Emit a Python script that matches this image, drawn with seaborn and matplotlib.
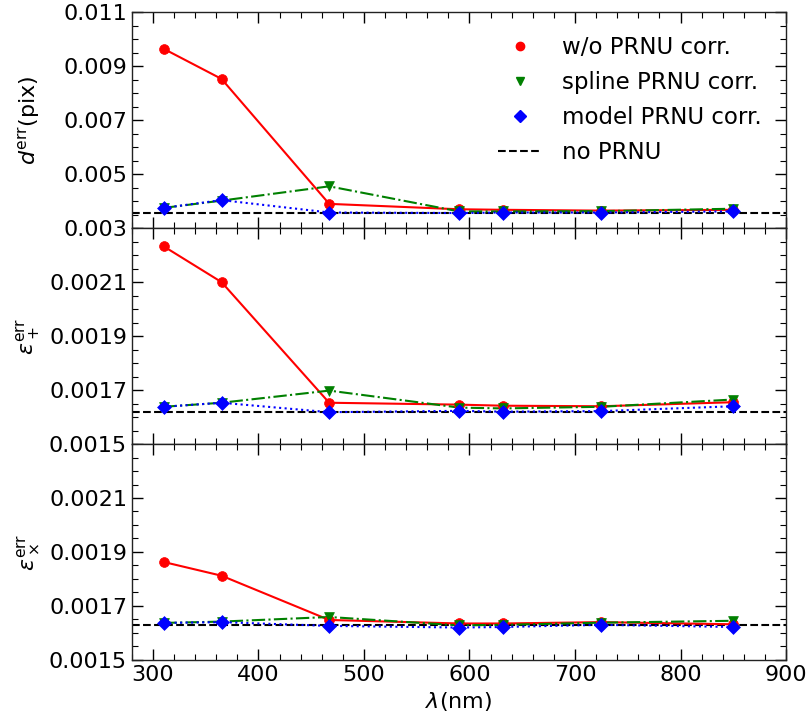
import numpy as np
import pandas as pd
import matplotlib
matplotlib.use("Agg")
import matplotlib.pyplot as plt
from matplotlib.ticker import AutoMinorLocator, MultipleLocator
from matplotlib.lines import Line2D
import seaborn as sns

# ---- data ----
wavelength = [310, 365, 467, 590, 632, 725, 850]

d_wo = [0.00965, 0.00853, 0.00390, 0.00370, 0.00368, 0.00365, 0.00368]
d_spline = [0.00375, 0.00402, 0.00455, 0.00362, 0.00362, 0.00363, 0.00372]
d_model = [0.00375, 0.00404, 0.00358, 0.00356, 0.00358, 0.00358, 0.00362]
d_none = 0.00358

ep_wo = [0.002233, 0.002100, 0.001653, 0.001646, 0.001642, 0.001640, 0.001655]
ep_spline = [0.001638, 0.001653, 0.001698, 0.001635, 0.001632, 0.001638, 0.001665]
ep_model = [0.001638, 0.001653, 0.001618, 0.001623, 0.001620, 0.001622, 0.001640]
ep_none = 0.00162

ex_wo = [0.001863, 0.001812, 0.001648, 0.001635, 0.001635, 0.001640, 0.001632]
ex_spline = [0.001637, 0.001642, 0.001659, 0.001628, 0.001630, 0.001638, 0.001645]
ex_model = [0.001637, 0.001640, 0.001626, 0.001620, 0.001622, 0.001630, 0.001622]
ex_none = 0.00163

labels = ["w/o PRNU corr.", "spline PRNU corr.", "model PRNU corr."]
none_label = "no PRNU"
ylabels = [r"$d^{\rm err}$(pix)", r"$\varepsilon_+^{\rm err}$", r"$\varepsilon_\times^{\rm err}$"]
xlabel = r"$\lambda$(nm)"

panels = [
    (d_wo, d_spline, d_model, d_none, (0.003, 0.011), [0.003, 0.005, 0.007, 0.009, 0.011]),
    (ep_wo, ep_spline, ep_model, ep_none, (0.0015, 0.0023), [0.0015, 0.0017, 0.0019, 0.0021]),
    (ex_wo, ex_spline, ex_model, ex_none, (0.0015, 0.0023), [0.0015, 0.0017, 0.0019, 0.0021]),
]

sns.set_style("ticks")
plt.rcParams['font.family'] = ['DejaVu Sans']
plt.rcParams['mathtext.fontset'] = 'dejavusans'
for k in ['text.color', 'axes.labelcolor', 'xtick.color', 'ytick.color']:
    plt.rcParams[k] = 'black'

colors = ["red", "green", "blue"]
markers = ["o", "v", "D"]
lstyles = ["-", "-.", ":"]

fig, axes = plt.subplots(3, 1, figsize=(8.09, 7.22), dpi=100, sharex=True)
fig.subplots_adjust(left=0.163, right=0.9716, bottom=0.086, top=0.983, hspace=0)

for i, (ax, (wo, sp, mo, none, ylim, ticks)) in enumerate(zip(axes, panels)):
    ax.axhline(none, color="black", linestyle="--", linewidth=1.5, zorder=1)
    for ser, c, m, ls, lab in zip([wo, sp, mo], colors, markers, lstyles, labels):
        df = pd.DataFrame({"x": wavelength, "y": ser})
        sns.lineplot(data=df, x="x", y="y", ax=ax, color=c, linestyle=ls,
                     linewidth=1.5, legend=False, zorder=2)
        sns.scatterplot(data=df, x="x", y="y", ax=ax, color=c, marker=m,
                        s=50, edgecolor=c, linewidth=0.5, legend=False, zorder=3)
    ax.set_xlim(280, 900)
    ax.set_ylim(*ylim)
    ax.set_yticks(ticks)
    ax.yaxis.set_minor_locator(AutoMinorLocator(4))
    ax.xaxis.set_major_locator(MultipleLocator(100))
    ax.xaxis.set_minor_locator(AutoMinorLocator(5))
    ax.tick_params(which="both", direction="in", top=True, right=True, labelsize=16)
    ax.tick_params(which="major", length=8, width=1)
    ax.tick_params(which="minor", length=4, width=0.8)
    ax.set_ylabel(ylabels[i], fontsize=16)
    ax.set_xlabel("")
    for sp_ in ax.spines.values():
        sp_.set_color("#222222")
        sp_.set_linewidth(1)

axes[2].set_xlabel(xlabel, fontsize=16)
axes[2].set_xticks([300, 400, 500, 600, 700, 800, 900])

handles = [Line2D([], [], color=c, marker=m, linestyle="none", markersize=6)
           for c, m in zip(colors, markers)]
handles.append(Line2D([], [], color="black", linestyle="--", linewidth=1.5))
axes[0].legend(handles, labels + [none_label], loc="upper right", frameon=False,
               fontsize=16.5, handlelength=1.9, handletextpad=0.9,
               labelspacing=0.52, borderaxespad=0.3,
               bbox_to_anchor=(0.988, 0.965))

fig.align_ylabels(axes)
fig.savefig("out.png", dpi=100)
